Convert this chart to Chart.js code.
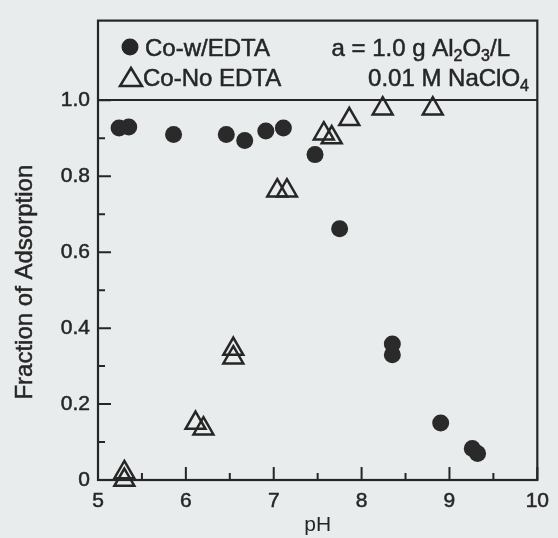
<!DOCTYPE html>
<html>
<head>
<meta charset="utf-8">
<script src="https://cdn.jsdelivr.net/npm/chart.js@4.4.1/dist/chart.umd.min.js"></script>
<style>
  html, body { margin: 0; padding: 0; background: #e9ecec; }
  canvas { display: block; }
</style>
</head>
<body>
<canvas id="myChart" width="558" height="538"></canvas>
<script>
// Co with EDTA (filled circles)
var edtaPH   = [5.24, 5.35, 5.86, 6.46, 6.67, 6.91, 7.11, 7.47, 7.75, 8.35, 8.35, 8.90, 9.26, 9.32];
var edtaFrac = [0.927, 0.930, 0.910, 0.910, 0.894, 0.919, 0.927, 0.857, 0.662, 0.358, 0.330, 0.150, 0.083, 0.070];

// Co without EDTA (open triangles)
var noEdtaPH   = [5.30, 5.30, 6.11, 6.20, 6.54, 6.54, 7.04, 7.15, 7.57, 7.66, 7.86, 8.24, 8.81];
var noEdtaFrac = [0.020, 0.000, 0.150, 0.135, 0.345, 0.322, 0.762, 0.762, 0.912, 0.902, 0.950, 0.978, 0.978];

var xTicks = [5, 6, 7, 8, 9, 10];
var xTickLabels = ['5', '6', '7', '8', '9', '10'];
var xMinor = [5.5, 6.5, 7.5, 8.5, 9.5];
var yTicks = [0, 0.2, 0.4, 0.6, 0.8, 1.0];
var yTickLabels = ['0', '0.2', '0.4', '0.6', '0.8', '1.0'];
var yMinor = [0.1, 0.3, 0.5, 0.7, 0.9];

var INK = '#262626';
var FONT = '"Liberation Sans", Arial, Helvetica, sans-serif';

function toPoints(xs, ys) {
    return xs.map(function (x, i) { return { x: x, y: ys[i] }; });
}

// fill + thin stroke so the text looks as heavy as the scan
function inkText(ctx, t, x, y) {
    ctx.fillText(t, x, y);
    ctx.strokeText(t, x, y);
}

// draw text with subscript pieces, right aligned at xr
function drawRich(ctx, parts, xr, y, size) {
    var subSize = Math.round(size * 0.68);
    var total = 0;
    parts.forEach(function (p) {
        ctx.font = (p.sub ? subSize : size) + 'px ' + FONT;
        p.w = ctx.measureText(p.t).width;
        total += p.w;
    });
    var x = xr - total;
    parts.forEach(function (p) {
        ctx.font = (p.sub ? subSize : size) + 'px ' + FONT;
        inkText(ctx, p.t, x, p.sub ? y + size * 0.22 : y);
        x += p.w;
    });
}

var framePlugin = {
    id: 'frame',
    beforeDatasetsDraw: function (chart) {
        var ctx = chart.ctx, a = chart.chartArea;
        var xs = chart.scales.x, ys = chart.scales.y;
        ctx.save();
        ctx.strokeStyle = INK;
        ctx.lineWidth = 2.2;
        ctx.strokeRect(a.left, a.top, a.right - a.left, a.bottom - a.top);
        ctx.lineWidth = 2;
        ctx.beginPath();
        xTicks.forEach(function (v) {
            var px = xs.getPixelForValue(v);
            ctx.moveTo(px, a.bottom); ctx.lineTo(px, a.bottom - 13);
        });
        xMinor.forEach(function (v) {
            var px = xs.getPixelForValue(v);
            ctx.moveTo(px, a.bottom); ctx.lineTo(px, a.bottom - 7);
        });
        yTicks.forEach(function (v) {
            var py = ys.getPixelForValue(v);
            ctx.moveTo(a.left, py); ctx.lineTo(a.left + 13, py);
        });
        yMinor.forEach(function (v) {
            var py = ys.getPixelForValue(v);
            ctx.moveTo(a.left, py); ctx.lineTo(a.left + 7, py);
        });
        ctx.stroke();

        // y axis title, centred on the 0..1 range
        var yMid = (ys.getPixelForValue(0) + ys.getPixelForValue(1)) / 2;
        ctx.fillStyle = INK;
        ctx.lineWidth = 0.5;
        ctx.font = '24px ' + FONT;
        ctx.textAlign = 'center';
        ctx.textBaseline = 'middle';
        ctx.translate(25, yMid - 8);
        ctx.rotate(-Math.PI / 2);
        inkText(ctx, 'Fraction of Adsorption', 0, 0);
        ctx.restore();
    },
    afterDraw: function (chart) {
        var ctx = chart.ctx;
        ctx.save();
        ctx.fillStyle = INK;
        ctx.strokeStyle = INK;
        ctx.textBaseline = 'alphabetic';
        // legend symbols
        ctx.beginPath();
        ctx.arc(130, 47, 8.5, 0, Math.PI * 2);
        ctx.fill();
        ctx.lineWidth = 2.5;
        ctx.beginPath();
        ctx.moveTo(131, 68); ctx.lineTo(142, 86); ctx.lineTo(120, 86); ctx.closePath();
        ctx.stroke();
        ctx.lineWidth = 0.5;
        ctx.font = '24px ' + FONT;
        inkText(ctx, 'Co-w/EDTA', 145, 56);
        inkText(ctx, 'Co-No EDTA', 143, 86);
        drawRich(ctx, [{ t: 'a = 1.0 g Al' }, { t: '2', sub: true }, { t: 'O' }, { t: '3', sub: true }, { t: '/L' }], 510, 56, 24);
        drawRich(ctx, [{ t: '0.01 M NaClO' }, { t: '4', sub: true }], 529, 86, 24);
        ctx.restore();
    }
};

var ctx = document.getElementById('myChart').getContext('2d');
var myChart = new Chart(ctx, {
    type: 'scatter',
    data: {
        datasets: [{
            label: 'Co-w/EDTA',
            data: toPoints(edtaPH, edtaFrac),
            pointStyle: 'circle',
            pointRadius: 8.5,
            pointBackgroundColor: '#2a2a2a',
            pointBorderColor: '#2a2a2a',
            pointBorderWidth: 0,
            clip: false
        }, {
            label: 'Co-No EDTA',
            data: toPoints(noEdtaPH, noEdtaFrac),
            pointStyle: 'triangle',
            pointRadius: 11.5,
            pointBackgroundColor: 'rgba(0,0,0,0)',
            pointBorderColor: INK,
            pointBorderWidth: 2.5,
            clip: false
        }]
    },
    options: {
        responsive: false,
        animation: false,
        layout: { padding: { left: 0, right: 13, top: 14, bottom: 0 } },
        plugins: {
            legend: { display: false },
            tooltip: { enabled: false }
        },
        scales: {
            x: {
                type: 'linear',
                min: 5,
                max: 10,
                afterBuildTicks: function (s) { s.ticks = xTicks.map(function (v) { return { value: v }; }); },
                afterFit: function (s) { s.height = 58; },
                ticks: {
                    callback: function (v) { return xTickLabels[xTicks.indexOf(v)]; },
                    color: INK,
                    textStrokeColor: INK,
                    textStrokeWidth: 0.5,
                    font: { family: FONT, size: 21 },
                    padding: 9,
                    maxRotation: 0,
                    autoSkip: false
                },
                grid: { display: false, drawTicks: false },
                border: { display: false },
                title: {
                    display: true,
                    text: 'pH',
                    color: INK,
                    font: { family: FONT, size: 21 },
                    padding: { top: -2, bottom: 0 }
                }
            },
            y: {
                min: 0,
                max: 1.21,
                afterBuildTicks: function (s) { s.ticks = yTicks.map(function (v) { return { value: v }; }); },
                afterFit: function (s) { s.width = 98; },
                ticks: {
                    callback: function (v) { return yTickLabels[yTicks.indexOf(v)]; },
                    color: INK,
                    textStrokeColor: INK,
                    textStrokeWidth: 0.5,
                    font: { family: FONT, size: 21 },
                    padding: 8,
                    autoSkip: false
                },
                grid: {
                    drawTicks: false,
                    lineWidth: 2,
                    color: function (c) { return c.tick && c.tick.value === 1 ? INK : 'rgba(0,0,0,0)'; }
                },
                border: { display: false }
            }
        }
    },
    plugins: [framePlugin]
});
</script>
</body>
</html>
